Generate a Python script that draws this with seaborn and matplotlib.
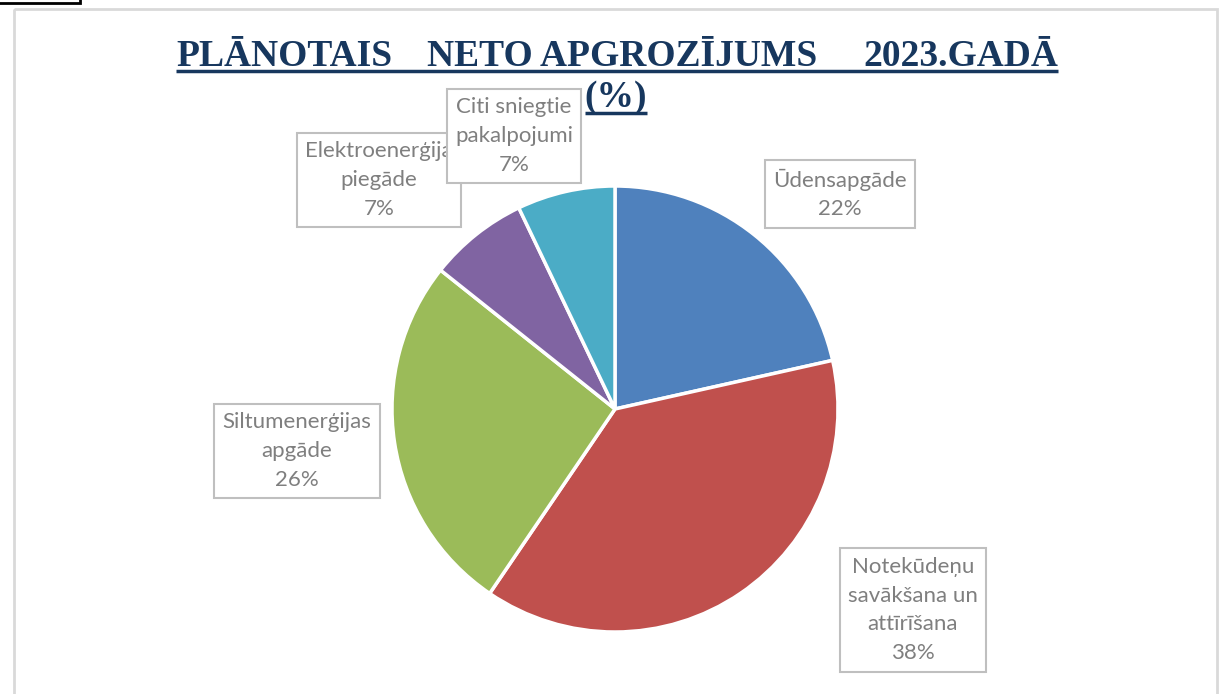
import matplotlib
matplotlib.use("Agg")
import matplotlib.pyplot as plt
import seaborn as sns
from matplotlib.patches import Rectangle
from matplotlib.lines import Line2D

# ---- data ----
categories = ["Ūdensapgāde",
              "Notekūdeņu\nsavākšana un\nattīrīšana",
              "Siltumenerģijas\napgāde",
              "Elektroenerģija\npiegāde",
              "Citi sniegtie\npakalpojumi"]
values = [21.5, 38.0, 26.2, 7.2, 7.1]
colors = ["#4F81BD", "#C0504D", "#9BBB59", "#8064A2", "#4BACC6"]
title_words = ["PLĀNOTAIS", "NETO APGROZĪJUMS", "2023.GADĀ"]
title_line2 = "(%)"

# ---- layout (pixels) ----
W, H = 1229, 694
label_pos = [(840, 194), (913, 610), (297, 451), (379, 180), (514, 136)]
title_x = [176, 427, 863]   # left edges of title words
title_y = 66                # baseline
cx, cy, r = 615, 409, 223

sns.set_theme(style="white")
plt.rcParams['font.family'] = ['Lato', 'DejaVu Sans']

fig = plt.figure(figsize=(W / 100, H / 100), dpi=100)
fig.patch.set_facecolor("white")

# pie axes
pax = fig.add_axes([(cx - r) / W, (H - cy - r) / H, 2 * r / W, 2 * r / H])
pax.pie(values, colors=colors, startangle=90, counterclock=False,
        wedgeprops=dict(edgecolor="white", linewidth=2.5))
pax.set_xlim(-1, 1)
pax.set_ylim(-1, 1)
pax.axis("off")

# overlay axes in pixel coordinates
ov = fig.add_axes([0, 0, 1, 1], zorder=5)
ov.set_xlim(0, W)
ov.set_ylim(H, 0)
ov.axis("off")
ov.patch.set_alpha(0)

# chart frame
ov.add_patch(Rectangle((14, 9), 1203, 700, fill=False, edgecolor="#d9d9d9",
                       linewidth=2, clip_on=False))
# small black box at top-left
ov.add_patch(Rectangle((-5, -5), 85, 8, fill=False, edgecolor="black",
                       linewidth=2, clip_on=False))

# data labels
total = sum(values)
for i in range(len(values)):
    x, y = label_pos[i]
    pct = 100 * values[i] / total
    ov.text(x, y, f"{categories[i]}\n{pct:.0f}%", ha="center", va="center",
            fontsize=16, color="#7f7f7f", linespacing=1.55,
            bbox=dict(boxstyle="square,pad=0.38", facecolor="white",
                      edgecolor="#bfbfbf", linewidth=1.5))

# title
tcol = "#17375E"
texts = []
for wx, wtxt in zip(title_x, title_words):
    texts.append(ov.text(wx, title_y, wtxt, ha="left", va="baseline",
                         fontsize=27, fontweight="bold", color=tcol,
                         family=["Liberation Serif", "DejaVu Serif"]))
t2 = ov.text(616, 107, title_line2, ha="center", va="baseline",
             fontsize=27, fontweight="bold", color=tcol,
             family=["Liberation Serif", "DejaVu Serif"])

fig.canvas.draw()
rend = fig.canvas.get_renderer()
ext_first = texts[0].get_window_extent(rend)
ext_last = texts[-1].get_window_extent(rend)
ov.add_line(Line2D([ext_first.x0, ext_last.x1], [71, 71], color=tcol,
                   linewidth=2.5, solid_capstyle="butt"))
e2 = t2.get_window_extent(rend)
ov.add_line(Line2D([e2.x0, e2.x1], [113, 113], color=tcol,
                   linewidth=2.5, solid_capstyle="butt"))

fig.savefig("out.png", dpi=100, facecolor="white")
